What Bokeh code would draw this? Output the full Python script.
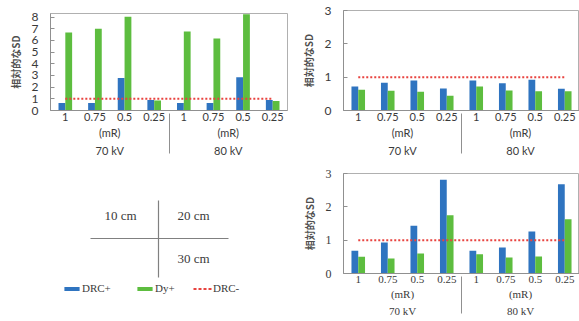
from bokeh.plotting import figure
from bokeh.models import (ColumnDataSource, FactorRange, Range1d, SingleIntervalTicker,
                          Legend, LegendItem, Label)
from bokeh.transform import dodge
from bokeh.layouts import row, column
from bokeh.embed import file_html
from bokeh.resources import INLINE

# ---------------- data ----------------
kv_groups = ["70 kV", "80 kV"]
mr_levels = ["1", "0.75", "0.5", "0.25"]
unit_label = "(mR)"
y_title = "相対的なSD"

drc_plus_10 = [0.65, 0.65, 2.78, 0.90, 0.65, 0.65, 2.84, 0.90]
dy_plus_10 = [6.67, 7.00, 8.03, 0.85, 6.75, 6.16, 8.23, 0.82]
drc_plus_20 = [0.72, 0.83, 0.90, 0.66, 0.90, 0.82, 0.92, 0.65]
dy_plus_20 = [0.62, 0.59, 0.56, 0.44, 0.72, 0.60, 0.58, 0.58]
drc_plus_30 = [0.68, 0.93, 1.43, 2.81, 0.68, 0.78, 1.26, 2.68]
dy_plus_30 = [0.50, 0.45, 0.60, 1.75, 0.58, 0.48, 0.51, 1.63]
drc_minus = [1.0, 1.0, 1.0, 1.0, 1.0, 1.0, 1.0, 1.0]

distances = ["10 cm", "20 cm", "30 cm"]
series_names = ["DRC+", "Dy+", "DRC-"]

BLUE = "#2f74c0"
GREEN = "#5dbd3f"
RED = "#e8433f"
TXT = "#3a3a3a"

factors = [(k, unit_label, m) for k in kv_groups for m in mr_levels]


def panel(drc, dy, ymax, width, height, borders, font, fsize="11px", ylabel_size="10px"):
    src = ColumnDataSource(dict(x=factors, drc=drc, dy=dy, ref=drc_minus))
    xr = FactorRange(*factors, factor_padding=0, subgroup_padding=0, group_padding=0,
                     range_padding=0)
    p = figure(x_range=xr, y_range=Range1d(0, ymax), width=width, height=height,
               output_backend="svg", toolbar_location=None,
               min_border_left=borders[0], min_border_right=borders[1],
               min_border_top=borders[2], min_border_bottom=borders[3])
    p.vbar(x=dodge("x", -0.115, range=p.x_range), top="drc", width=0.23, source=src,
           fill_color=BLUE, line_color=None)
    p.vbar(x=dodge("x", 0.115, range=p.x_range), top="dy", width=0.23, source=src,
           fill_color=GREEN, line_color=None)
    p.line(x="x", y="ref", source=src, line_color=RED, line_width=2, line_dash="2 2")
    p.grid.visible = False
    p.outline_line_color = "#b0b0b0"
    p.outline_line_width = 1
    p.background_fill_color = "white"
    p.border_fill_color = "white"

    ya = p.yaxis[0]
    ya.ticker = SingleIntervalTicker(interval=1)
    ya.minor_tick_line_color = None
    ya.major_tick_in = 4
    ya.major_tick_out = 0
    ya.major_tick_line_color = "#909090"
    ya.axis_line_color = "#909090"
    ya.major_label_text_font = font
    ya.major_label_text_font_size = "12px"
    ya.major_label_text_color = TXT
    ya.major_label_standoff = 8
    ya.axis_label = y_title
    ya.axis_label_text_font = "Noto Sans CJK JP"
    ya.axis_label_text_font_size = ylabel_size
    ya.axis_label_text_font_style = "bold"
    ya.axis_label_text_color = "#505050"
    ya.axis_label_standoff = 6

    xa = p.xaxis[0]
    xa.major_tick_in = 0
    xa.major_tick_out = 0
    xa.major_tick_line_color = None
    xa.axis_line_color = "#909090"
    xa.major_label_text_font = font
    xa.major_label_text_font_size = fsize
    xa.major_label_text_color = TXT
    xa.major_label_standoff = 2
    xa.subgroup_text_font = font
    xa.subgroup_text_font_size = fsize
    xa.subgroup_text_color = TXT
    xa.subgroup_text_font_style = "normal"
    xa.group_text_font = font
    xa.group_text_font_size = fsize
    xa.group_text_color = TXT
    xa.group_text_font_style = "normal"
    xa.separator_line_color = "#909090"
    xa.separator_line_width = 1
    return p


tl = panel(drc_plus_10, dy_plus_10, 8.3, 290, 160, (50, 3, 13, 50), "Lato")
tr = panel(drc_plus_20, dy_plus_20, 3.0, 289, 160, (53, 0, 10, 50), "Lato")
br = panel(drc_plus_30, dy_plus_30, 3.0, 289, 161, (53, 0, 13, 48), "Liberation Serif")

# ---------------- legend / key panel ----------------
# (its frame is aligned with the top-left chart's frame: x 50..287 in page pixels)
lg = figure(width=290, height=161, x_range=Range1d(50, 287), y_range=Range1d(161, 0),
            x_axis_type=None, y_axis_type=None,
            output_backend="svg", toolbar_location=None,
            min_border_left=50, min_border_right=3, min_border_top=0, min_border_bottom=0)
lg.grid.visible = False
lg.outline_line_color = None

lg.segment(x0=[90, 158], y0=[78, 40], x1=[228, 158], y1=[78, 117],
           line_color="#808080", line_width=1.2)
for txt, (px, py) in zip(distances, [(120, 55), (193, 55), (193, 98)]):
    lg.add_layout(Label(x=px, y=py, text=txt, text_font="Liberation Serif",
                        text_font_size="13px", text_color=TXT,
                        text_align="center", text_baseline="middle"))

# off-screen proxies so that the legends can draw their swatches
src_b = ColumnDataSource(dict(x=[-50], y=[-50]))
src_g = ColumnDataSource(dict(x=[-50], y=[-50]))
src_r = ColumnDataSource(dict(x=[-60, -50], y=[-50, -50]))
r_b = lg.vbar(x="x", top="y", width=1, source=src_b, fill_color=BLUE, line_color=None)
r_g = lg.vbar(x="x", top="y", width=1, source=src_g, fill_color=GREEN, line_color=None)
r_r = lg.line(x="x", y="y", source=src_r, line_color=RED, line_width=2, line_dash="3 2")

for name, rend, xloc in zip(series_names, [r_b, r_g, r_r], [12, 85, 143]):
    lgd = Legend(items=[LegendItem(label=name, renderers=[rend])],
                 orientation="horizontal", location=(xloc, 27),
                 glyph_width=19, glyph_height=5, label_standoff=1,
                 padding=0, margin=0, border_line_color=None,
                 background_fill_alpha=0,
                 label_text_font="Liberation Serif", label_text_font_size="11px",
                 label_text_color=TXT, label_height=12)
    lg.add_layout(lgd, "center")

layout = row(column(tl, lg), column(tr, br))
open("out.html", "w").write(file_html(layout, INLINE))
